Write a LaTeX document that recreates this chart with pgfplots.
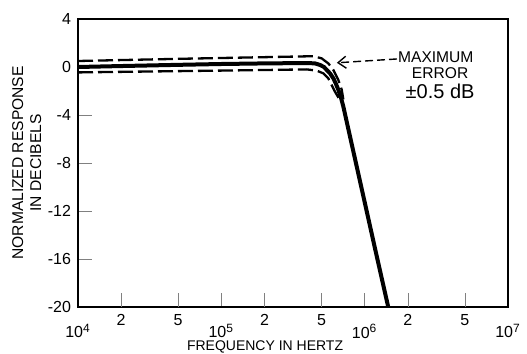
\documentclass[border=0pt]{standalone}
\usepackage{fontspec}
\setmainfont{Liberation Sans}
\usepackage{pgfplots}
\pgfplotsset{compat=1.18}
\usetikzlibrary{arrows.meta}
\begin{document}
\begin{tikzpicture}
\begin{semilogxaxis}[
  scale only axis, width=215pt, height=144pt,
  xmin=1e4, xmax=1e7, ymin=-20, ymax=4,
  axis line style={line width=1pt},
  major tick length=7pt,
  minor tick length=5pt,
  tick align=inside,
  xtick pos=left, ytick pos=left,
  xtick={1e4,1e5,1e6,1e7},
  minor xtick={2e4,5e4,2e5,5e5,2e6,5e6},
  xticklabels={10\textsuperscript{4},10\textsuperscript{5},10\textsuperscript{6},10\textsuperscript{7}},
  x tick label style={font=\fontsize{8}{9}\selectfont, yshift=-5pt},
  extra x ticks={2e4,5e4,2e5,5e5,2e6,5e6},
  extra x tick labels={2,5,2,5,2,5},
  extra x tick style={xticklabel style={yshift=5pt}},
  ytick={-20,-16,-12,-8,-4,0,4},
  yticklabels={-20,-16,-12,-8,-4,0,4},
  y tick label style={font=\fontsize{8}{9}\selectfont},
  xlabel={FREQUENCY IN HERTZ},
  xlabel style={at={(rel axis cs:0.435,-0.139)}, anchor=center, font=\fontsize{7}{8}\selectfont},
  ylabel={NORMALIZED RESPONSE\\IN DECIBELS},
  ylabel style={at={(rel axis cs:-0.119,0.5)}, anchor=center, align=center, font=\fontsize{7.8}{9}\selectfont},
]
% nominal response
\addplot[black, line width=2pt] coordinates {
 (1e4,0) (2e4,0.08) (5e4,0.18) (1e5,0.25) (2e5,0.3) (4e5,0.33) (4.5e5,0.3)
 (4.88e5,0.17) (5.2e5,0.0) (5.44e5,-0.25) (5.75e5,-0.55) (6.05e5,-0.95) (6.3e5,-1.4) (6.55e5,-1.9)
 (6.85e5,-2.6) (7.1e5,-3.3) (8e5,-6.08) (1e6,-11.26) (1.2e6,-15.5) (1.46e6,-20)
};
% upper error bound
\addplot[black, line width=1.15pt, dash pattern=on 7.5pt off 2.5pt] coordinates {
 (1e4,0.5) (5e4,0.68) (1e5,0.75) (2e5,0.82) (4.38e5,0.9) (5.01e5,0.72) (5.58e5,0.3)
 (6.05e5,-0.25) (6.55e5,-1.08) (6.92e5,-1.9) (7.1e5,-2.7)
};
% lower error bound
\addplot[black, line width=1.15pt, dash pattern=on 7.5pt off 2.5pt] coordinates {
 (1e4,-0.45) (1e5,-0.3) (2e5,-0.25) (3.94e5,-0.2) (4.62e5,-0.3) (5.15e5,-0.53)
 (5.58e5,-0.95) (5.88e5,-1.5) (6.2e5,-2.05) (6.6e5,-2.6)
};
\draw[line width=0.7pt, dash pattern=on 4pt off 2pt, -{Straight Barb[length=4pt,width=6pt]}]
  (axis cs:1.68e6,0.67) -- (axis cs:6.4e5,0.35);
\node[anchor=west, inner sep=0pt, font=\fontsize{7.8}{9}\selectfont] at (axis cs:1.7e6,0.83) {MAXIMUM};
\node[inner sep=0pt, font=\fontsize{7.8}{9}\selectfont] at (axis cs:3.36e6,-0.5) {ERROR};
\node[inner sep=0pt, font=\fontsize{10}{12}\selectfont] at (axis cs:3.36e6,-2.0) {±0.5 dB};
\coordinate (sw) at (rel axis cs:0,0);
\end{semilogxaxis}
\pgfresetboundingbox
\path (sw) ++(-39pt,-23.5pt) rectangle ++(263.5pt,177pt);
\end{tikzpicture}
\end{document}
